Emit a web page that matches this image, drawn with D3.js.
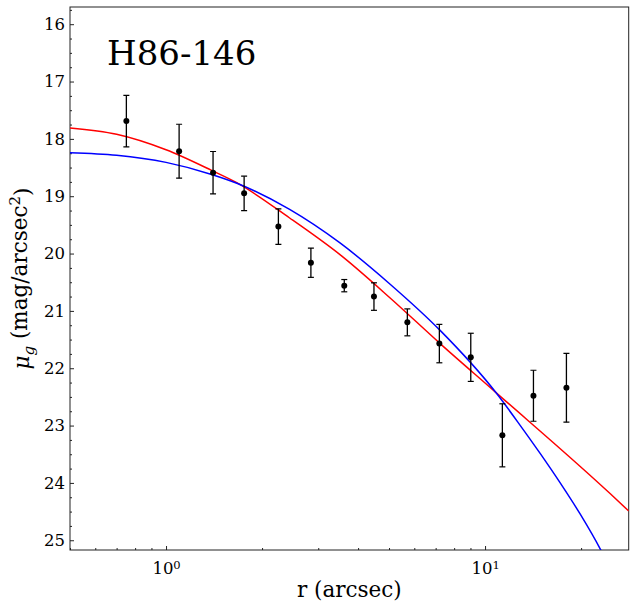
<!DOCTYPE html>
<html>
<head>
<meta charset="utf-8">
<script src="https://cdn.jsdelivr.net/npm/d3@7"></script>
<style>
  body { margin: 0; background: #fff; }
  text { font-family: "DejaVu Serif", serif; fill: #000; }
</style>
</head>
<body>
<script>
// measured profile
let radii = [0.751, 1.099, 1.404, 1.757, 2.25, 2.845, 3.62, 4.485, 5.707, 7.19, 9.02, 11.33, 14.18, 17.99];
let mu = [17.69, 18.215, 18.59, 18.95, 19.53, 20.16, 20.56, 20.75, 21.20, 21.57, 21.81, 23.17, 22.48, 22.34];
let muErr = [0.45, 0.47, 0.37, 0.30, 0.31, 0.255, 0.107, 0.24, 0.235, 0.335, 0.42, 0.55, 0.445, 0.6];

// model curves
let redR = [0.5, 0.7, 1.0, 1.39, 1.66, 2.44, 3.51, 5.03, 7.23, 10.8, 24.7, 28.2];
let redMu = [17.81, 17.92, 18.19, 18.55, 18.76, 19.38, 20.02, 20.77, 21.57, 22.42, 24.19, 24.49];
let blueR = [0.5, 0.7, 1.0, 1.39, 1.66, 2.44, 3.51, 5.03, 7.23, 10.8, 12.9, 14.9, 17.2, 19.9, 22.95, 23.3];
let blueMu = [18.24, 18.285, 18.41, 18.62, 18.77, 19.23, 19.815, 20.53, 21.34, 22.42, 23.0, 23.49, 24.0, 24.55, 25.15, 25.22];

let yTicks = [16, 17, 18, 19, 20, 21, 22, 23, 24, 25];
let xTicks = [1, 10];
let xExp = ["0", "1"];
let title = "H86-146";

let width = 634;
let height = 608;
let mLeft = 70, mRight = 628.7, mTop = 7, mBottom = 550;

let x = d3.scaleLog().domain([0.5, 28.2]).range([mLeft, mRight]);
let y = d3.scaleLinear().domain([15.7, 25.17]).range([mTop, mBottom]);

let svg = d3.select("body").append("svg").attr("width", width).attr("height", height);

svg.append("clipPath").attr("id", "plotclip")
    .append("rect").attr("x", mLeft).attr("y", mTop).attr("width", mRight - mLeft).attr("height", mBottom - mTop);

// minor ticks
let yMinor = [];
for (let v = 15.75; v <= 25.17; v += 0.25) {
    if (Math.abs(v - Math.round(v)) > 0.01) yMinor.push(v);
}
let xMinor = [];
[0.1, 1, 10].forEach((d) => {
    for (let k = 2; k <= 9; k++) {
        let v = d * k;
        if (v >= 0.5 && v <= 28.2) xMinor.push(v);
    }
});

svg.append("g").attr("transform", `translate(${mLeft},0)`)
    .call(d3.axisLeft(y).tickValues(yMinor).tickSize(-2).tickFormat(""))
    .call((g) => g.select(".domain").remove());
svg.append("g").attr("transform", `translate(0,${mBottom})`)
    .call(d3.axisBottom(x).tickValues(xMinor).tickSize(-2).tickFormat(""))
    .call((g) => g.select(".domain").remove());

// major ticks
let yAxis = svg.append("g").attr("transform", `translate(${mLeft},0)`)
    .call(d3.axisLeft(y).tickValues(yTicks).tickSize(-4).tickPadding(5).tickFormat(d3.format("d")));
yAxis.select(".domain").remove();
yAxis.selectAll("text").style("font-size", "16.5px").style("font-family", "DejaVu Serif");

let xAxis = svg.append("g").attr("transform", `translate(0,${mBottom})`)
    .call(d3.axisBottom(x).tickValues(xTicks).tickSize(-4).tickPadding(8).tickFormat(""));
xAxis.select(".domain").remove();
xAxis.selectAll(".tick text").each(function(d, i) {
    let t = d3.select(this).style("font-size", "16.5px").style("font-family", "DejaVu Serif").attr("dy", "0.95em");
    t.append("tspan").text("10");
    t.append("tspan").text(xExp[i]).attr("dy", "-0.45em").style("font-size", "11.5px");
});

svg.selectAll(".tick line").attr("stroke", "#222");

// frame
svg.append("rect").attr("x", mLeft).attr("y", mTop)
    .attr("width", mRight - mLeft).attr("height", mBottom - mTop)
    .attr("fill", "none").attr("stroke", "#222").attr("stroke-width", 1);

let plot = svg.append("g").attr("clip-path", "url(#plotclip)");

let line = d3.line().curve(d3.curveMonotoneX)
    .x((d) => x(d[0]))
    .y((d) => y(d[1]));

plot.append("path").datum(redR.map((r, i) => [r, redMu[i]]))
    .attr("d", line).attr("fill", "none").attr("stroke", "#ff0000").attr("stroke-width", 1.5);
plot.append("path").datum(blueR.map((r, i) => [r, blueMu[i]]))
    .attr("d", line).attr("fill", "none").attr("stroke", "#0000ff").attr("stroke-width", 1.5);

// error bars
let pts = radii.map((r, i) => ({r: r, m: mu[i], e: muErr[i]}));
let eb = plot.selectAll("g.eb").data(pts).enter().append("g").attr("class", "eb");
eb.append("line")
    .attr("x1", (d) => x(d.r)).attr("x2", (d) => x(d.r))
    .attr("y1", (d) => y(d.m - d.e)).attr("y2", (d) => y(d.m + d.e))
    .attr("stroke", "#000").attr("stroke-width", 1.3);
eb.append("line")
    .attr("x1", (d) => x(d.r) - 3).attr("x2", (d) => x(d.r) + 3)
    .attr("y1", (d) => y(d.m - d.e)).attr("y2", (d) => y(d.m - d.e))
    .attr("stroke", "#000").attr("stroke-width", 1.2);
eb.append("line")
    .attr("x1", (d) => x(d.r) - 3).attr("x2", (d) => x(d.r) + 3)
    .attr("y1", (d) => y(d.m + d.e)).attr("y2", (d) => y(d.m + d.e))
    .attr("stroke", "#000").attr("stroke-width", 1.2);
eb.append("circle")
    .attr("cx", (d) => x(d.r)).attr("cy", (d) => y(d.m))
    .attr("r", 3).attr("fill", "#000");

// title inside the axes
svg.append("text").attr("x", 107).attr("y", 65)
    .style("font-size", "34px").text(title);

// axis labels
svg.append("text").attr("x", (mLeft + mRight) / 2).attr("y", 597)
    .attr("text-anchor", "middle").style("font-size", "21.5px").text("r (arcsec)");

let yl = svg.append("text")
    .attr("transform", `translate(29,${(mTop + mBottom) / 2}) rotate(-90)`)
    .attr("text-anchor", "middle").style("font-size", "21.5px");
yl.append("tspan").text("μ").style("font-style", "italic");
yl.append("tspan").text("g").style("font-style", "italic").style("font-size", "15px").attr("dy", "0.3em");
yl.append("tspan").text(" (mag/arcsec").attr("dy", "-0.3em");
yl.append("tspan").text("2").style("font-size", "15px").attr("dy", "-0.45em");
yl.append("tspan").text(")").attr("dy", "0.45em");
</script>
</body>
</html>
